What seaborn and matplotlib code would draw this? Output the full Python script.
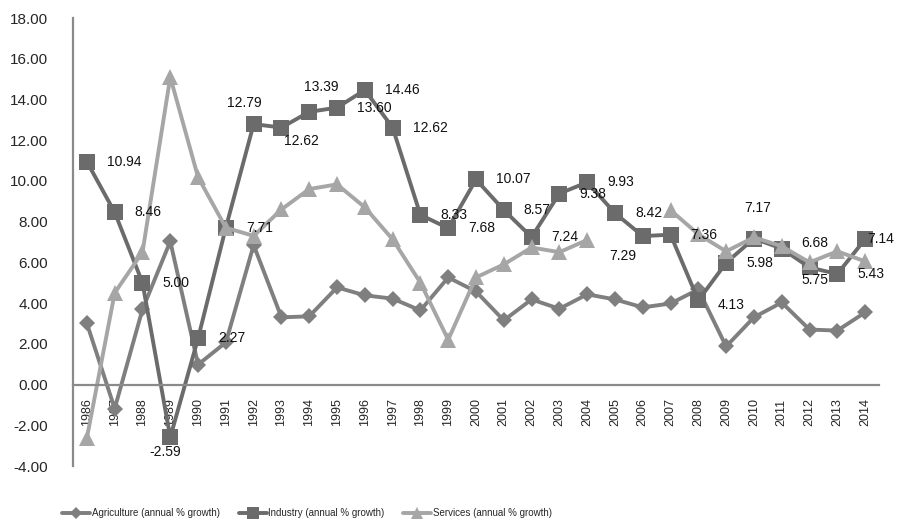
import numpy as np
import pandas as pd
import matplotlib
matplotlib.use('Agg')
import matplotlib.pyplot as plt
from matplotlib import font_manager
from matplotlib.lines import Line2D
import seaborn as sns

# Dane
years = list(range(1986, 2015))
agriculture = [3.00, -1.18, 3.69, 7.03, 0.98, 2.07, 6.85, 3.30, 3.35, 4.77,
               4.38, 4.22, 3.64, 5.26, 4.57, 3.15, 4.18, 3.72, 4.43, 4.18,
               3.79, 3.98, 4.67, 1.87, 3.30, 4.03, 2.70, 2.65, 3.54]
industry = [10.94, 8.46, 5.00, -2.59, 2.27, 7.71, 12.79, 12.62, 13.39, 13.60,
            14.46, 12.62, 8.33, 7.68, 10.07, 8.57, 7.24, 9.38, 9.93, 8.42,
            7.29, 7.36, 4.13, 5.98, 7.17, 6.68, 5.75, 5.43, 7.14]
services = [-2.62, 4.50, 6.50, 15.10, 10.18, 7.70, 7.30, 8.60, 9.60, 9.83,
            8.70, 7.13, 5.00, 2.20, 5.26, 5.90, 6.73, 6.50, 7.10, np.nan,
            np.nan, 8.56, 7.38, 6.54, 7.23, 6.79, 6.00, 6.54, 6.05]
series_names = ['Agriculture (annual % growth)', 'Industry (annual % growth)',
                'Services (annual % growth)']

# Styl
sns.set_style('white')
plt.rcParams['font.family'] = ['Liberation Sans', 'DejaVu Sans']

colors = ['#7f7f7f', '#6b6b6b', '#a6a6a6']
markers = ['D', 's', '^']
msizes = [8, 11.5, 11]

df = pd.DataFrame({'year': years, series_names[0]: agriculture,
                   series_names[1]: industry, series_names[2]: services})
df = df.melt(id_vars='year', var_name='series', value_name='value')
# osobne odcinki tam, gdzie brak danych
df['seg'] = df.groupby('series')['value'].transform(lambda s: s.isna().cumsum())
df = df.dropna()

fig = plt.figure(figsize=(8.99, 5.25), dpi=100)
ax = fig.add_axes([73 / 899, 1 - 466 / 525, (879 - 73) / 899, (466 - 18) / 525])

for name, c, m, ms in zip(series_names, colors, markers, msizes):
    sub = df[df['series'] == name]
    sns.lineplot(data=sub, x='year', y='value', units='seg', estimator=None,
                 color=c, marker=m, markersize=ms, markeredgewidth=0,
                 linewidth=2.8, ax=ax, legend=False)

# Etykiety danych (wartości przemysłu)
label_pos = {1989: (-5, -15, 'center'), 1992: (-9, 21, 'center'),
             1993: (20, -13, 'center'), 1994: (12, 25, 'center'),
             2006: (-20, -20, 'center'), 2008: (19, -5, 'left'),
             2010: (4, 31, 'center'), 2011: (20, 6, 'left'),
             2012: (5, -13, 'center'), 2014: (2, 0, 'left')}
for yr, v in zip(years, industry):
    dx, dy, ha = label_pos.get(yr, (20, 0, 'left'))
    ax.annotate(f'{v:.2f}', xy=(yr, v), xytext=(dx, dy), textcoords='offset pixels',
                ha=ha, va='center', fontsize=10, color='#111111')

# Osie (pozycja spine przed ustawieniem etykiet, bo resetuje ticki)
for s in ['top', 'right']:
    ax.spines[s].set_visible(False)
ax.spines['bottom'].set_position(('data', 0))
for s in ['bottom', 'left']:
    ax.spines[s].set_color('#8a8a8a')
    ax.spines[s].set_linewidth(1.6)

ax.set_xlim(1985.5, 2014.5)
ax.set_ylim(-4, 18)
ax.set_yticks(np.arange(-4, 18.1, 2))
ax.set_yticklabels([f'{t:.2f}' for t in np.arange(-4, 18.1, 2)], fontsize=11)
ax.set_xticks(years)
ax.set_xticklabels([str(y) for y in years], rotation=90, fontsize=9)
ax.tick_params(axis='x', length=0, pad=10)
ax.tick_params(axis='y', length=0, pad=18)
ax.set_xlabel('')
ax.set_ylabel('')

# Legenda
try:
    font_manager.findfont('Liberation Sans Narrow', fallback_to_default=False)
    leg_family, leg_fs = 'Liberation Sans Narrow', 8.5
except ValueError:
    leg_family, leg_fs = 'Liberation Sans', 7
fs_px = leg_fs * 100 / 72
handles = [Line2D([], [], color=c, marker=m, markersize=ms * 0.8, markeredgewidth=0, lw=2.8)
           for c, m, ms in zip(colors, markers, msizes)]
fig.legend(handles, series_names, loc='center left', bbox_to_anchor=(62 / 899, 1 - 513 / 525),
           ncol=3, frameon=False, borderpad=0, borderaxespad=0,
           handlelength=28 / fs_px, handletextpad=1.5 / fs_px, columnspacing=19 / fs_px,
           prop={'family': leg_family, 'size': leg_fs})

fig.savefig('out.png', dpi=100)
